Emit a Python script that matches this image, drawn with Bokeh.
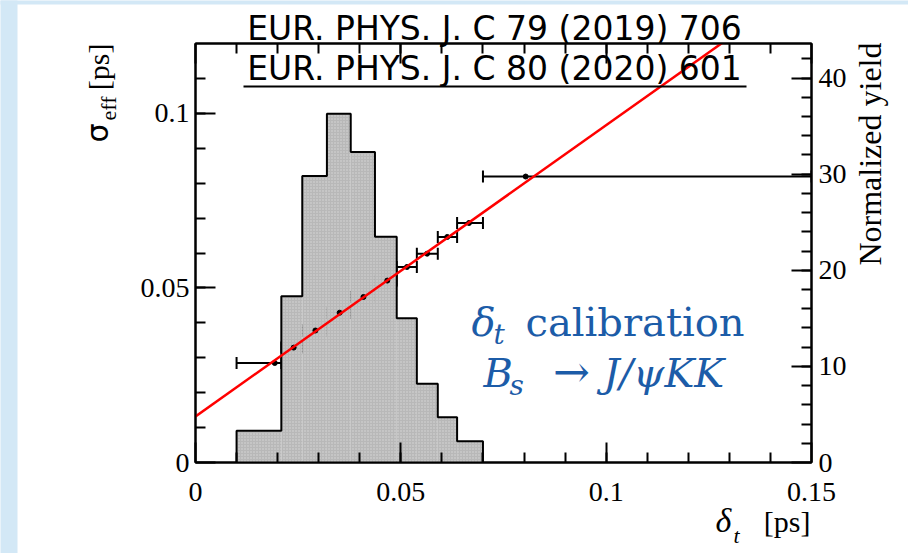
import math
from bokeh.plotting import figure
from bokeh.models import (Range1d, LinearAxis, FixedTicker, Whisker, TeeHead,
                          ColumnDataSource, CustomJSTickFormatter)
from bokeh.core.properties import value
from bokeh.embed import file_html
from bokeh.resources import INLINE

# ---------------- data ----------------
hist_edges = [0.010, 0.0209, 0.0260, 0.0320, 0.0378, 0.0437, 0.0490, 0.0539, 0.0590, 0.0637, 0.070]
hist_yield = [3.3, 17.3, 29.8, 36.3, 32.3, 23.5, 15.0, 8.2, 4.7, 2.2]

calib_xlo = [0.010, 0.0209, 0.0260, 0.0320, 0.0378, 0.0437, 0.0490, 0.0539, 0.0590, 0.0637, 0.070]
calib_xhi = [0.0209, 0.0260, 0.0320, 0.0378, 0.0437, 0.0490, 0.0539, 0.0590, 0.0637, 0.070, 0.150]
calib_x = [0.0193, 0.0239, 0.0292, 0.0351, 0.0409, 0.0467, 0.0515, 0.0564, 0.0613, 0.0666, 0.0804]
calib_sigma = [0.0285, 0.0329, 0.0378, 0.0429, 0.0474, 0.0521, 0.0560, 0.0598, 0.0646, 0.0686, 0.0819]

fit_intercept = 0.0132
fit_slope = 0.834

x_ticks = [0.0, 0.05, 0.1, 0.15]
x_tick_labels = ["0", "0.05", "0.1", "0.15"]
y_ticks = [0.0, 0.05, 0.1]
y_tick_labels = ["0", "0.05", "0.1"]
y2_ticks = [0, 10, 20, 30, 40]
y2_tick_labels = ["0", "10", "20", "30", "40"]

X_MAX = 0.15
Y_MAX = 0.12
Y2_MAX = 43.6

# ---------------- layout (pixels) ----------------
W, H = 908, 553
FL, FT, FR, FB = 195, 43, 811, 462   # frame edges

p = figure(width=W, height=H, x_range=Range1d(0, X_MAX), y_range=Range1d(0, Y_MAX),
           output_backend="svg", toolbar_location=None,
           min_border_left=FL, min_border_right=W - FR, min_border_top=FT, min_border_bottom=H - FB,
           background_fill_color="white", border_fill_color="white")
p.extra_y_ranges = {"yield": Range1d(0, Y2_MAX)}
p.xgrid.visible = False
p.ygrid.visible = False
p.outline_line_color = "black"
p.outline_line_width = 2

def fmt(tv, tl):
    return CustomJSTickFormatter(args=dict(tv=tv, tl=tl), code="""
        for (let i = 0; i < tv.length; i++) {
            if (Math.abs(tv[i] - tick) < 1e-9) { return tl[i]; }
        }
        return '';
    """)

def style(ax):
    ax.axis_line_width = 2
    ax.axis_line_color = "black"
    ax.major_tick_line_width = 2
    ax.minor_tick_line_width = 2
    ax.major_tick_in = 20
    ax.major_tick_out = 0
    ax.minor_tick_in = 10
    ax.minor_tick_out = 0
    ax.major_label_text_font = "Liberation Serif"
    ax.major_label_text_font_size = "28px"
    ax.major_label_text_color = "black"

x_minor = [0.01 * i for i in range(1, 15)]
y_minor = [0.01 * i for i in range(1, 12)]
y2_minor = [2 * i for i in range(1, 22)]

xa = p.xaxis[0]
xa.ticker = FixedTicker(ticks=x_ticks, minor_ticks=x_minor)
xa.formatter = fmt(x_ticks, x_tick_labels)
style(xa)
xa.major_label_standoff = 20

ya = p.yaxis[0]
ya.ticker = FixedTicker(ticks=y_ticks, minor_ticks=y_minor)
ya.formatter = fmt(y_ticks, y_tick_labels)
style(ya)
ya.major_label_standoff = 6

ta = LinearAxis(ticker=FixedTicker(ticks=x_ticks, minor_ticks=x_minor), formatter=fmt([], []))
style(ta)
ta.major_label_text_font_size = "2px"
p.add_layout(ta, "above")

ra = LinearAxis(y_range_name="yield", ticker=FixedTicker(ticks=y2_ticks, minor_ticks=y2_minor),
                formatter=fmt(y2_ticks, y2_tick_labels))
style(ra)
ra.major_label_standoff = 7
p.add_layout(ra, "right")

# pixel -> data helpers (for page decorations and text placement)
def dx(px):
    return (px - FL) / (FR - FL) * X_MAX

def dy(py):
    return (FB - py) / (FB - FT) * Y_MAX

# light-blue slide background strips (left and top)
SLIDE = "#d3e8f6"
p.quad(left=[dx(0), dx(0)], right=[dx(17), dx(W)], top=[dy(0), dy(0)], bottom=[dy(H), dy(4)],
       fill_color=SLIDE, line_color=None, level="overlay")

# ---------------- histogram ----------------
hsrc = ColumnDataSource(dict(left=hist_edges[:-1], right=hist_edges[1:], top=hist_yield,
                             bottom=[0] * len(hist_yield)))
p.quad(left="left", right="right", top="top", bottom="bottom", source=hsrc, y_range_name="yield",
       fill_color="#b8b8b8", line_color=None, hatch_pattern="dot", hatch_color="#d8d8d8",
       hatch_scale=3, hatch_weight=1)

sx = [hist_edges[0]]
sy = [0]
for i, h in enumerate(hist_yield):
    sx += [hist_edges[i], hist_edges[i + 1]]
    sy += [h, h]
sx.append(hist_edges[-1])
sy.append(0)
p.line(sx, sy, y_range_name="yield", line_color="black", line_width=2)

# ---------------- calibration points ----------------
csrc = ColumnDataSource(dict(x=calib_x, y=calib_sigma, lo=calib_xlo, hi=calib_xhi))
p.add_layout(Whisker(source=csrc, base="y", lower="lo", upper="hi", dimension="width",
                     line_color="black", line_width=2,
                     lower_head=TeeHead(size=12, line_width=2, line_color="black"),
                     upper_head=TeeHead(size=12, line_width=2, line_color="black")))
p.scatter("x", "y", source=csrc, size=5, color="black")

# ---------------- fit line ----------------
fx = [0.0, X_MAX]
fy = [fit_intercept + fit_slope * v for v in fx]
p.line(fx, fy, line_color="red", line_width=2.5)

# ---------------- texts ----------------
K = 0.35  # baseline correction (fraction of font size)

def txt(text, px, py, size, font="Liberation Serif", style_="normal", color="black",
        align="left", angle=0.0):
    if angle == 0.0:
        py = py - K * size
    else:
        px = px - K * size
    p.text(x=[dx(px)], y=[dy(py)], text=[text], angle=angle,
           text_font=value(font), text_font_size=value(f"{size}px"), text_font_style=style_,
           text_color=color, text_align=align, text_baseline="alphabetic", level="overlay")

# journal references (underlined)
txt("EUR. PHYS. J. C 79 (2019) 706", 494, 40, 33, font="DejaVu Sans", align="center")
txt("EUR. PHYS. J. C 80 (2020) 601", 494, 80, 33, font="DejaVu Sans", align="center")
p.segment(x0=[dx(243)], y0=[dy(86)], x1=[dx(746)], y1=[dy(86)], line_color="black",
          line_width=2, level="overlay")

# blue annotation
BLUE = "#1c5ca8"
txt("δ", 471, 335, 40, font="DejaVu Serif", style_="italic", color=BLUE)
txt("t", 493, 344, 28, font="DejaVu Serif", style_="italic", color=BLUE)
txt("calibration", 525, 335, 40, font="DejaVu Serif", color=BLUE)
txt("B", 483, 386, 40, font="DejaVu Serif", style_="italic", color=BLUE)
txt("s", 509, 395, 28, font="DejaVu Serif", style_="italic", color=BLUE)
txt("→", 571, 386, 44, font="DejaVu Serif", color=BLUE, align="center")
txt("J/ψKK", 603, 386, 40, font="DejaVu Serif", style_="italic", color=BLUE)

# axis titles
txt("δ", 715, 532, 34, style_="italic")
txt("t", 733, 543, 22, style_="italic")
txt("[ps]", 810, 531, 30, align="right")

txt("σ", 107, 142, 30, font="DejaVu Sans", angle=math.pi / 2)
txt("eff", 116, 120, 22, angle=math.pi / 2)
txt("[ps]", 108, 43, 30, align="right", angle=math.pi / 2)

txt("Normalized yield", 881, 42, 32, align="right", angle=math.pi / 2)

open("out.html", "w").write(file_html(p, INLINE))
